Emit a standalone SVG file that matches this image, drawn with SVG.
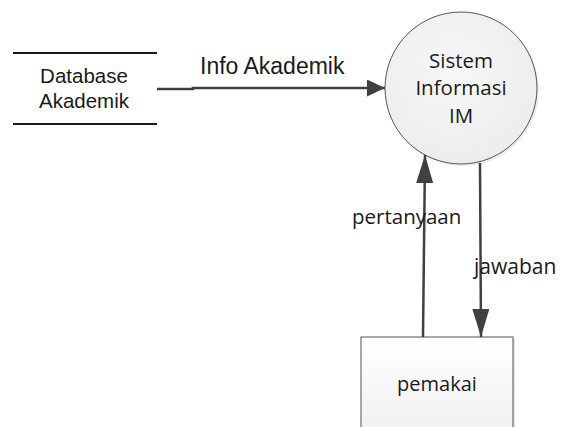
<svg xmlns="http://www.w3.org/2000/svg" width="562" height="427" viewBox="0 0 562 427">
  <defs>
    <radialGradient id="procFill" cx="0.45" cy="0.4" r="0.7">
      <stop offset="0" stop-color="#f7f7f7"/>
      <stop offset="1" stop-color="#ebebeb"/>
    </radialGradient>
    <linearGradient id="boxFill" x1="0" y1="0" x2="0" y2="1">
      <stop offset="0" stop-color="#ffffff"/>
      <stop offset="1" stop-color="#f0f0f0"/>
    </linearGradient>
    <marker id="arrowShort" markerWidth="18" markerHeight="17" refX="18" refY="8.5" orient="auto" markerUnits="userSpaceOnUse" viewBox="0 0 18 17">
      <path d="M0,0 L18,8.5 L0,17 Z" fill="#404040"/>
    </marker>
    <marker id="arrowLong" markerWidth="28" markerHeight="17" refX="28" refY="8.5" orient="auto" markerUnits="userSpaceOnUse" viewBox="0 0 28 17">
      <path d="M0,0 L28,8.5 L0,17 Z" fill="#404040"/>
    </marker>
  </defs>
  <style>
    .flow { stroke: #404040; stroke-width: 2.5; fill: none; }
    .sans { font-family: "Liberation Sans", Arial, sans-serif; fill: #1a1a1a; }
    .cal { font-family: "Open Sans", "Noto Sans", sans-serif; fill: #1a1a1a; }
  </style>
  <rect width="562" height="427" fill="#ffffff"/>

  <!-- data store -->
  <g id="database-akademik">
    <line x1="13" y1="53" x2="157" y2="53" stroke="#1a1a1a" stroke-width="2"/>
    <line x1="13" y1="124" x2="157" y2="124" stroke="#1a1a1a" stroke-width="2"/>
    <text class="sans" x="84" y="83" font-size="20.5" text-anchor="middle">Database</text>
    <text class="sans" x="84" y="108" font-size="20.5" text-anchor="middle">Akademik</text>
  </g>

  <!-- process -->
  <g id="sistem-informasi-im">
    <circle cx="463" cy="90" r="76" fill="#dcdcdc" opacity="0.5"/>
    <circle cx="461" cy="88" r="76" fill="url(#procFill)" stroke="#555555" stroke-width="1"/>
    <text class="cal" x="461" y="68" font-size="20.5" text-anchor="middle">Sistem</text>
    <text class="cal" x="461" y="95" font-size="20.5" text-anchor="middle">Informasi</text>
    <text class="cal" x="461" y="123" font-size="20.5" text-anchor="middle">IM</text>
  </g>

  <!-- external entity -->
  <g id="pemakai">
    <rect x="363" y="339" width="152" height="100" fill="#e6e6e6"/>
    <rect x="361" y="337" width="152" height="100" fill="url(#boxFill)" stroke="#555555" stroke-width="1"/>
    <text class="cal" x="437" y="391" font-size="20" text-anchor="middle">pemakai</text>
  </g>

  <!-- flows -->
  <g id="connectors">
    <polyline class="flow" points="157,89 193,89 193,88 385,88" marker-end="url(#arrowShort)"/>
    <line class="flow" x1="423" y1="337" x2="425" y2="155" marker-end="url(#arrowLong)"/>
    <line class="flow" x1="480" y1="163" x2="481" y2="337" marker-end="url(#arrowLong)"/>
    <text class="sans" x="200" y="74" font-size="23">Info Akademik</text>
    <text class="cal" x="352" y="224" font-size="20.5">pertanyaan</text>
    <text class="cal" x="474" y="274" font-size="21">jawaban</text>
  </g>
</svg>
